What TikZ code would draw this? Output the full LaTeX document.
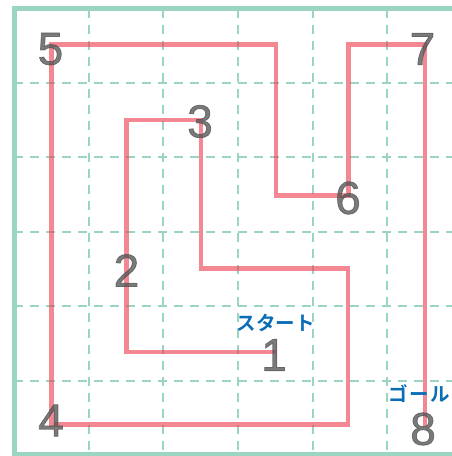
\documentclass[tikz,border=0pt]{standalone}
\usepackage{fontspec}
\setmainfont{Liberation Sans}
\newfontfamily\numfont[FakeBold=1.6]{Liberation Sans}
\newfontfamily\cjk{Noto Sans CJK JP}[BoldFont={Noto Sans CJK JP Bold}]
\begin{document}
\begin{tikzpicture}[x=1pt,y=-1pt,
  gridline/.style={draw=mint, line width=2.3pt, dash pattern=on 8.5pt off 7.5pt},
  frameline/.style={draw=mint, line width=4.5pt},
  route/.style={draw=routered, line width=4.8pt, opacity=0.6, line join=miter},
  num/.style={text=numgray, opacity=0.78, font=\numfont\fontsize{46}{46}\selectfont, inner sep=0pt},
  jlabel/.style={text=jblue, font=\cjk\bfseries\fontsize{19.5}{19.5}\selectfont, inner sep=0pt}]
\definecolor{mint}{HTML}{9AD5C0}
\definecolor{routered}{HTML}{EC3A4A}
\definecolor{numgray}{HTML}{555555}
\definecolor{jblue}{HTML}{0A6DB8}
\useasboundingbox (0,0) rectangle (452,456);
\fill[white] (0,0) rectangle (452,456);
% grid
\foreach \gx in {88.7,163.3,238,312.7,387} \draw[gridline] (\gx,9) -- (\gx,454);
\foreach \gy in {82.7,157.3,232,306.3,380.7} \draw[gridline] (14,\gy) -- (460,\gy);
% frame
\draw[frameline] (461,8.7) -- (14.3,8.7) -- (14.3,454) -- (461,454);
% route coordinates
\coordinate (p1) at (276,352);
\coordinate (p2) at (126.7,352);
\coordinate (p3) at (126.7,120);
\coordinate (p4) at (201,120);
\coordinate (p5) at (201,268.7);
\coordinate (p6) at (348,268.7);
\coordinate (p7) at (348,424.7);
\coordinate (p8) at (51.7,424.7);
\coordinate (p9) at (51.7,44.7);
\coordinate (p10) at (276,44.7);
\coordinate (p11) at (276,195.7);
\coordinate (p12) at (348.3,195.7);
\coordinate (p13) at (348.3,44.7);
\coordinate (p14) at (425,44.7);
\coordinate (p15) at (425,427);
\draw[route] (p1) -- (p2) -- (p3) -- (p4) -- (p5) -- (p6) -- (p7) -- (p8) -- (p9) -- (p10) -- (p11) -- (p12) -- (p13) -- (p14) -- (p15);
% numbers
\node[num] (n1) at (274,355) {1};
\node[num] (n2) at (126.5,270.5) {2};
\node[num] (n3) at (200,121.5) {3};
\node[num] (n4) at (51,420.5) {4};
\node[num] (n5) at (50.5,49) {5};
\node[num] (n6) at (348,198) {6};
\node[num] (n7) at (422.5,49) {7};
\node[num] (n8) at (423,429) {8};
% labels
\node[jlabel] (start) at (275.5,323.4) {スタート};
\node[jlabel, anchor=west] (goal) at (388.5,394) {ゴ\kern0.08emー\kern0.08emル};
\end{tikzpicture}
\end{document}
